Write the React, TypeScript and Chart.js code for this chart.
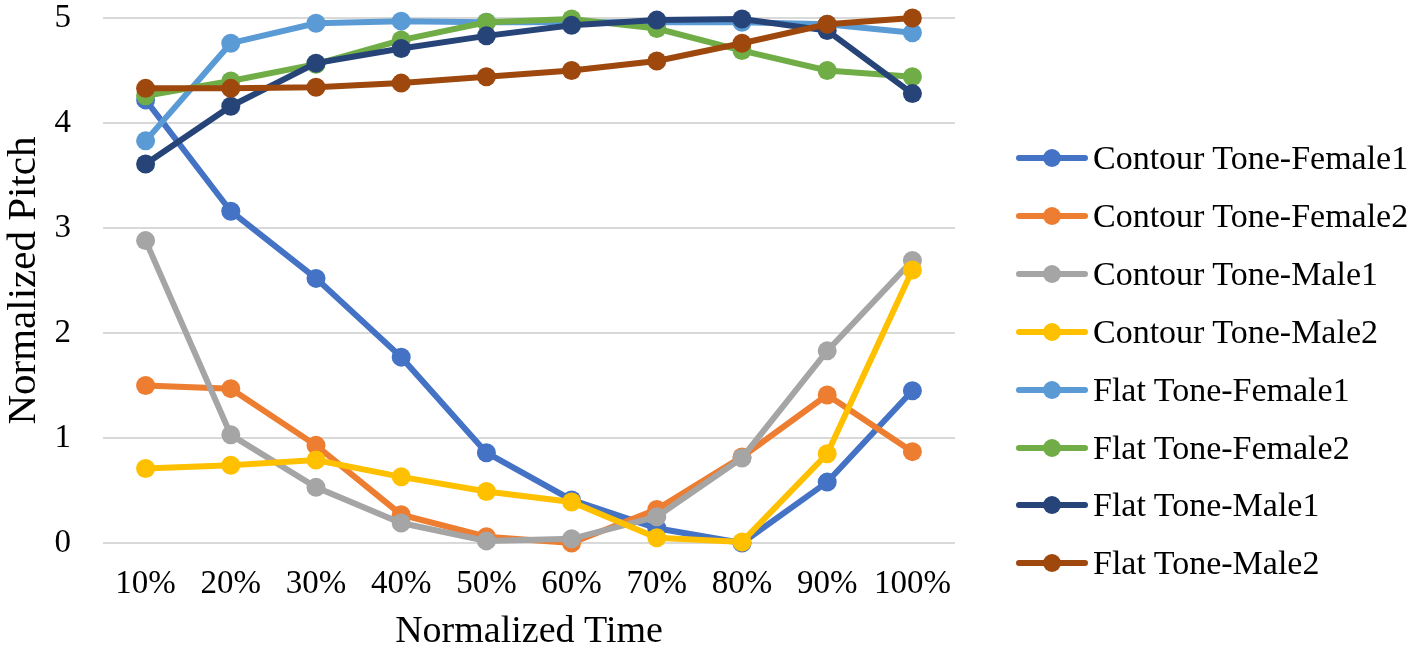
import { useEffect, useRef } from 'react';
import Chart from 'chart.js/auto';

const categories = ['10%', '20%', '30%', '40%', '50%', '60%', '70%', '80%', '90%', '100%'];

const contourFemale1 = [4.22, 3.16, 2.52, 1.77, 0.86, 0.41, 0.14, 0.0, 0.58, 1.45];
const contourFemale2 = [1.5, 1.47, 0.93, 0.27, 0.06, 0.0, 0.32, 0.82, 1.41, 0.87];
const contourMale1 = [2.88, 1.03, 0.53, 0.19, 0.02, 0.04, 0.25, 0.81, 1.83, 2.69];
const contourMale2 = [0.71, 0.74, 0.79, 0.63, 0.49, 0.39, 0.05, 0.01, 0.85, 2.6];
const flatFemale1 = [3.83, 4.76, 4.95, 4.97, 4.96, 4.96, 4.96, 4.96, 4.94, 4.86];
const flatFemale2 = [4.26, 4.4, 4.56, 4.79, 4.96, 4.99, 4.9, 4.69, 4.5, 4.44];
const flatMale1 = [3.61, 4.16, 4.57, 4.71, 4.83, 4.93, 4.98, 4.99, 4.88, 4.28];
const flatMale2 = [4.33, 4.33, 4.34, 4.38, 4.44, 4.5, 4.59, 4.76, 4.94, 5.0];

const seriesNames = [
    'Contour Tone-Female1',
    'Contour Tone-Female2',
    'Contour Tone-Male1',
    'Contour Tone-Male2',
    'Flat Tone-Female1',
    'Flat Tone-Female2',
    'Flat Tone-Male1',
    'Flat Tone-Male2',
];
const seriesValues = [
    contourFemale1, contourFemale2, contourMale1, contourMale2,
    flatFemale1, flatFemale2, flatMale1, flatMale2,
];
const seriesColors = ['#4472C4', '#ED7D31', '#A5A5A5', '#FFC000', '#5B9BD5', '#70AD47', '#264478', '#9E480E'];

const yTicks = [0, 1, 2, 3, 4, 5];

const FONT = "'Liberation Serif', 'Times New Roman', serif";

export default function App() {
    const canvasRef = useRef<HTMLCanvasElement | null>(null);

    useEffect(() => {
        document.body.style.margin = '0';
        if (!canvasRef.current) {
            return;
        }
        Chart.defaults.font.family = FONT;
        Chart.defaults.color = '#000';

        const chart = new Chart(canvasRef.current, {
            type: 'line',
            data: {
                labels: categories,
                datasets: seriesNames.map((name, i) => ({
                    label: name,
                    data: seriesValues[i],
                    borderColor: seriesColors[i],
                    backgroundColor: seriesColors[i],
                    pointBackgroundColor: seriesColors[i],
                    pointBorderColor: seriesColors[i],
                    borderWidth: 6,
                    pointRadius: 9.5,
                    pointBorderWidth: 0,
                    tension: 0,
                    clip: false as const,
                    // later series drawn on top, as in the original
                    order: seriesNames.length - i,
                })),
            },
            options: {
                animation: false,
                responsive: true,
                maintainAspectRatio: false,
                layout: {
                    padding: { top: 18, right: 462, bottom: 0, left: 0 },
                },
                plugins: {
                    legend: { display: false },
                    tooltip: { enabled: false },
                },
                scales: {
                    x: {
                        offset: true,
                        grid: { display: false },
                        border: { display: false },
                        ticks: { font: { size: 33 }, padding: 14, color: '#000' },
                        title: {
                            display: true,
                            text: 'Normalized Time',
                            font: { size: 38 },
                            color: '#000',
                            padding: { top: 4, bottom: 0 },
                        },
                        afterFit: (scale) => {
                            scale.height = 112;
                        },
                    },
                    y: {
                        min: 0,
                        max: 5,
                        afterBuildTicks: (scale) => {
                            scale.ticks = yTicks.map((v) => ({ value: v }));
                        },
                        grid: { color: '#D9D9D9', lineWidth: 2, drawTicks: false },
                        border: { display: false },
                        ticks: { font: { size: 33 }, padding: 32, color: '#000' },
                        title: {
                            display: true,
                            text: 'Normalized Pitch',
                            font: { size: 41 },
                            color: '#000',
                            padding: { top: 0, bottom: 0 },
                        },
                        afterFit: (scale: any) => {
                            scale.width = 103;
                            scale.paddingTop = 0;
                            scale.paddingBottom = 0;
                        },
                    },
                },
            },
        });
        return () => chart.destroy();
    }, []);

    return (
        <div style={{ position: 'relative', width: 1417, height: 655, background: '#fff' }}>
            <canvas ref={canvasRef} />
            {seriesNames.map((name, i) => (
                <div
                    key={name}
                    style={{
                        position: 'absolute',
                        left: 1016,
                        top: 158 + i * 57.9 - 20,
                        height: 40,
                        display: 'flex',
                        alignItems: 'center',
                        fontFamily: FONT,
                        fontSize: 34,
                        color: '#000',
                        whiteSpace: 'nowrap',
                    }}
                >
                    <span style={{ position: 'relative', width: 72, height: 40, display: 'inline-block', flex: 'none' }}>
                        <span
                            style={{
                                position: 'absolute',
                                left: 0,
                                right: 0,
                                top: 17,
                                height: 6,
                                borderRadius: 3,
                                background: seriesColors[i],
                            }}
                        />
                        <span
                            style={{
                                position: 'absolute',
                                left: 27,
                                top: 11,
                                width: 18,
                                height: 18,
                                borderRadius: 9,
                                background: seriesColors[i],
                            }}
                        />
                    </span>
                    <span style={{ marginLeft: 5 }}>{name}</span>
                </div>
            ))}
        </div>
    );
}
